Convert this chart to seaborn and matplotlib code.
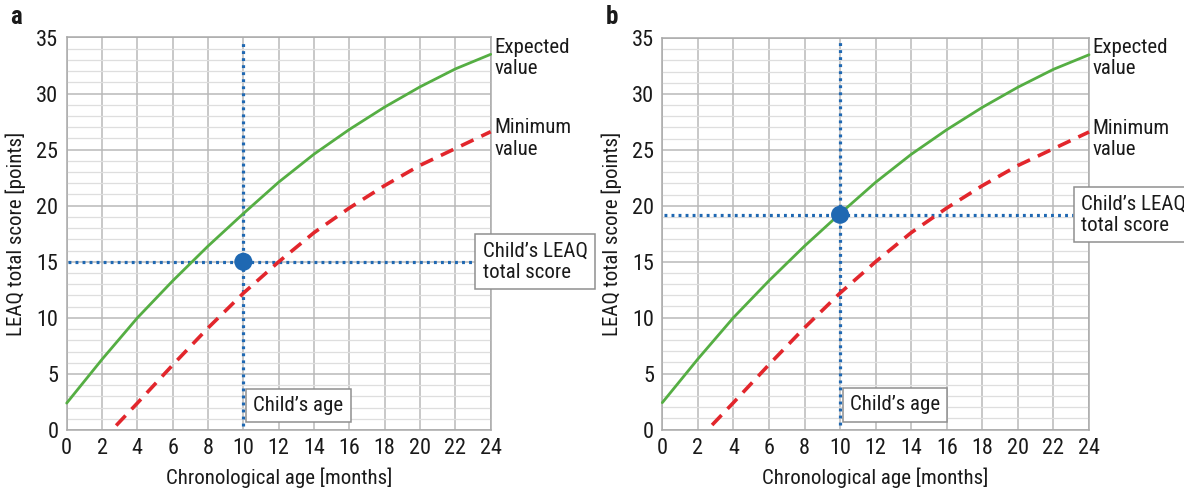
import matplotlib
matplotlib.use("Agg")
import matplotlib.pyplot as plt
import matplotlib.font_manager as fm
import seaborn as sns
import pandas as pd

# ---------------- data ----------------
ages = [0, 2, 4, 6, 8, 10, 12, 14, 16, 18, 20, 22, 24]
expected_score = [2.4, 6.3, 10.0, 13.3, 16.4, 19.3, 22.1, 24.6, 26.8, 28.8, 30.6, 32.2, 33.5]
min_ages = [2.8, 4, 6, 8, 10, 12, 14, 16, 18, 20, 22, 24]
minimum_score = [0.4, 2.4, 5.8, 9.1, 12.2, 15.0, 17.6, 19.8, 21.8, 23.6, 25.1, 26.6]
panel_labels = ["a", "b"]
child_age = [10, 10]
child_score = [15.0, 19.2]
x_ticks = list(range(0, 25, 2))
y_ticks = list(range(0, 36, 5))
x_label = "Chronological age [months]"
y_label = "LEAQ total score [points]"
expected_text = "Expected\nvalue"
minimum_text = "Minimum\nvalue"
score_text = "Child\u2019s LEAQ\ntotal score"
age_text = "Child\u2019s age"

# ---------------- style ----------------
sns.set_theme(style="white")
names = {f.name for f in fm.fontManager.ttflist}
fam = "DejaVu Sans"
for cand in ["Liberation Sans Narrow", "Roboto Condensed", "Open Sans Condensed", "Noto Sans Display"]:
    if cand in names:
        fam = cand
        break
plt.rcParams["font.family"] = [fam, "DejaVu Sans"]

GREEN = "#55ae43"
RED = "#e2262c"
BLUE = "#1f68b2"
TXT = "#1a1a1a"
FS = 15

df_exp = pd.DataFrame({"age": ages, "score": expected_score})
df_min = pd.DataFrame({"age": min_ages, "score": minimum_score})

W, H = 1184, 490
fig = plt.figure(figsize=(W / 100, H / 100), dpi=100)

# axes rectangles in pixels: left, right, top, bottom
rects = [(66.7, 490.7, 37.5, 430.0), (662.3, 1089.0, 38.0, 429.5)]

for i, (l, r, t, b) in enumerate(rects):
    ax = fig.add_axes([l / W, 1 - b / H, (r - l) / W, (b - t) / H])
    ax.set_xlim(0, 24)
    ax.set_ylim(0, 35)
    ax.set_xticks(x_ticks)
    ax.set_yticks(y_ticks)
    ax.set_yticks(range(0, 36, 1), minor=True)
    ax.grid(which="major", color="#b9b9b9", linewidth=1.1)
    ax.grid(which="minor", axis="y", color="#dedede", linewidth=0.9)
    ax.set_axisbelow(True)
    ax.tick_params(which="both", length=0, labelsize=16, colors=TXT, pad=6)
    for s in ax.spines.values():
        s.set_color("#a9a9a9")
        s.set_linewidth(1.1)

    # reference lines from the child's values
    ca, cs = child_age[i], child_score[i]
    box_x = 23.1
    ax.plot([0.1, box_x], [cs, cs], color=BLUE, linewidth=2.3,
            linestyle=(0, (0.9, 1.3)), zorder=3)
    ax.plot([ca, ca], [0.4, 34.7], color=BLUE, linewidth=2.3,
            linestyle=(0, (0.9, 1.3)), zorder=3)

    sns.lineplot(data=df_exp, x="age", y="score", ax=ax, color=GREEN,
                 linewidth=2.0, zorder=4, clip_on=False)
    sns.lineplot(data=df_min, x="age", y="score", ax=ax, color=RED,
                 linewidth=2.6, linestyle=(0, (3.8, 2.4)), zorder=4, clip_on=False)
    sns.scatterplot(x=[ca], y=[cs], ax=ax, color=BLUE, s=170,
                    edgecolor="none", zorder=6)

    ax.set_xlabel("")
    ax.set_ylabel("")

    # right-side labels
    ax.text(24.2, expected_score[-1] - 0.3, expected_text, fontsize=FS, color=TXT,
            ha="left", va="center", linespacing=1.15, clip_on=False)
    ax.text(24.2, minimum_score[-1] - 0.6, minimum_text, fontsize=FS, color=TXT,
            ha="left", va="center", linespacing=1.15, clip_on=False)

    # boxes
    ax.text(box_x + 0.45, cs, score_text, fontsize=FS, color=TXT, ha="left",
            va="center", linespacing=1.15, clip_on=False, zorder=7,
            bbox=dict(boxstyle="square,pad=0.35", facecolor="white",
                      edgecolor="#8f8f8f", linewidth=1.1))
    ax.text(ca + 0.55, 2.2, age_text, fontsize=FS, color=TXT, ha="left",
            va="center", clip_on=False, zorder=7,
            bbox=dict(boxstyle="square,pad=0.35", facecolor="white",
                      edgecolor="#8f8f8f", linewidth=1.1))

    cx = (l + r) / 2
    cy = (t + b) / 2
    fig.text(cx / W, 1 - 478 / H, x_label, fontsize=FS, color=TXT,
             ha="center", va="center")
    fig.text((l - 51) / W, 1 - cy / H, y_label, fontsize=FS, color=TXT,
             rotation=90, ha="center", va="center")
    fig.text((l - 57) / W, 1 - 17 / H, panel_labels[i], fontsize=18,
             fontweight="bold", color=TXT, ha="left", va="center")

fig.savefig("out.png", dpi=100)
